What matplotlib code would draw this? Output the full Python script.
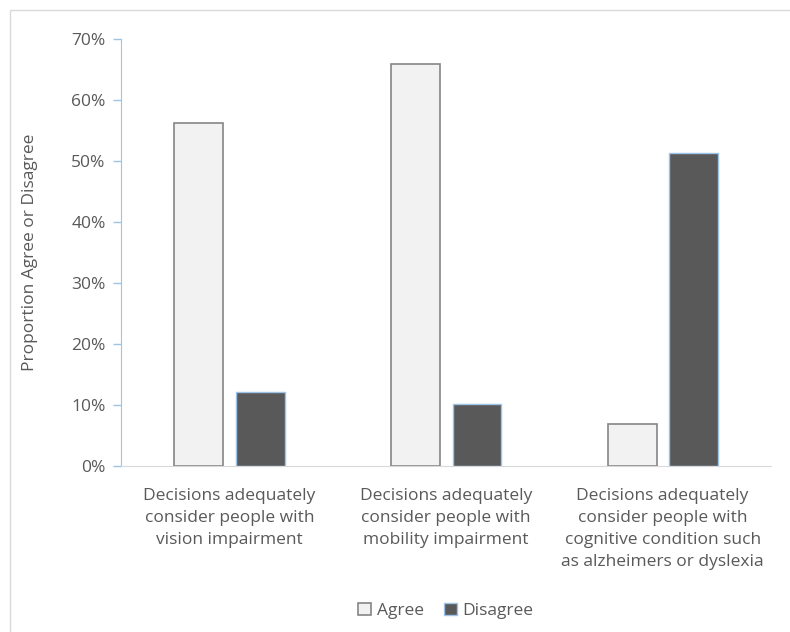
import matplotlib

matplotlib.use("Agg")
import matplotlib.pyplot as plt
import numpy as np
from matplotlib.patches import Rectangle
from matplotlib.ticker import PercentFormatter

categories = [
    "Decisions adequately\nconsider people with\nvision impairment",
    "Decisions adequately\nconsider people with\nmobility impairment",
    "Decisions adequately\nconsider people with\ncognitive condition such\nas alzheimers or dyslexia",
]
agree = [56.2, 65.9, 6.9]
disagree = [12.2, 10.1, 51.3]

TEXT = "#595959"
FS = 12.5
plt.rcParams["font.family"] = ["Open Sans", "DejaVu Sans"]

fig = plt.figure(figsize=(7.9, 6.32), dpi=100)
fig.patches.append(Rectangle((10 / 790, -0.1), 1.2, 1.1 - 10 / 632,
                             transform=fig.transFigure, fill=False,
                             edgecolor="#d9d9d9", linewidth=1))

ax = fig.add_axes([121 / 790, 166 / 632, 650 / 790, 427 / 632])
x = np.arange(len(categories))
w = 0.226
ax.bar(x - 0.141, agree, w, color="#f2f2f2", edgecolor="#858585",
       linewidth=1.2, label="Agree")
ax.bar(x + 0.143, disagree, w, color="#595959", edgecolor="#9dc3e6",
       linewidth=1.0, label="Disagree")

ax.set_xlim(-0.5, 2.5)
ax.set_ylim(0, 70)
ax.set_yticks(np.arange(0, 71, 10))
ax.yaxis.set_major_formatter(PercentFormatter(decimals=0))
ax.set_xticks(x)
ax.set_xticklabels(categories, linespacing=1.5)
ax.tick_params(axis="x", length=0, pad=16, labelsize=FS, labelcolor=TEXT)
ax.tick_params(axis="y", length=6, width=1, color="#9dc3e6", pad=5,
               labelsize=FS, labelcolor=TEXT)

for side in ["top", "right"]:
    ax.spines[side].set_visible(False)
ax.spines["left"].set_color("#9dc3e6")
ax.spines["bottom"].set_color("#d9d9d9")

ax.set_ylabel("Proportion Agree or Disagree", fontsize=FS, color=TEXT)
ax.yaxis.set_label_coords(-0.127, 0.5)

leg = ax.legend(loc="upper center", bbox_to_anchor=(0.5, -0.285), ncol=2,
                frameon=False, fontsize=FS, handlelength=0.7, handleheight=0.7,
                handletextpad=0.35, columnspacing=1.2)
for t in leg.get_texts():
    t.set_color(TEXT)

fig.savefig("out.png", dpi=100)
